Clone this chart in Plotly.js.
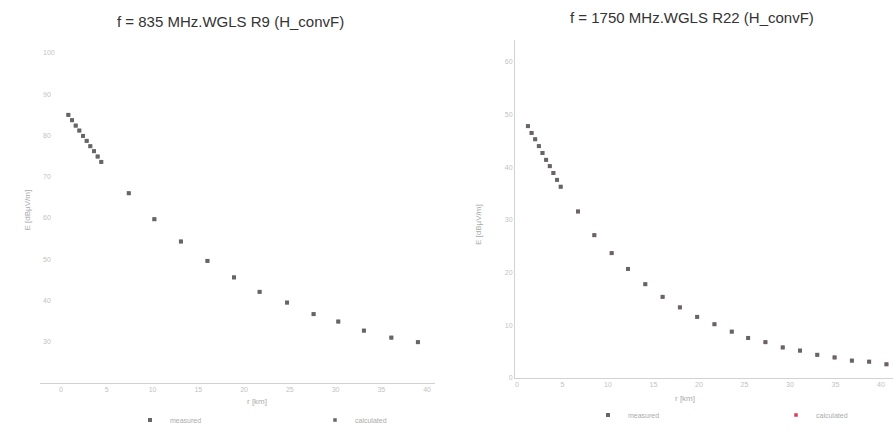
<!DOCTYPE html>
<html>
<head>
<meta charset="utf-8">
<script src="https://cdn.plot.ly/plotly-3.0.1.min.js"></script>
<style>html,body{margin:0;padding:0;background:#fff;}#chart{width:893px;height:441px;}</style>
</head>
<body>
<div id="chart"></div>
<script>
// ---- data ----
const leftTitle = "f = 835 MHz.WGLS R9 (H_convF)";
const rightTitle = "f = 1750 MHz.WGLS R22 (H_convF)";
const xTitle = "r [km]";
const yTitle = "E [dBµV/m]";

const leftR = [0.8, 1.2, 1.6, 2.0, 2.4, 2.8, 3.2, 3.6, 4.0, 4.4,
               7.4, 10.2, 13.1, 16.0, 18.9, 21.7, 24.7, 27.6, 30.3, 33.1, 36.1, 39.0];
const leftE = [85.0, 83.7, 82.4, 81.2, 79.9, 78.7, 77.4, 76.2, 74.9, 73.6,
               66.0, 59.7, 54.3, 49.6, 45.6, 42.1, 39.5, 36.7, 34.9, 32.7, 31.0, 29.9];

const rightR = [1.2, 1.6, 2.0, 2.4, 2.8, 3.2, 3.6, 4.0, 4.4, 4.8,
                6.7, 8.5, 10.4, 12.2, 14.1, 16.0, 17.9, 19.8, 21.7, 23.6,
                25.4, 27.3, 29.2, 31.1, 33.0, 34.9, 36.8, 38.7, 40.6];
const rightE = [47.8, 46.5, 45.3, 44.0, 42.7, 41.4, 40.2, 38.9, 37.6, 36.3,
                31.6, 27.1, 23.7, 20.7, 17.8, 15.4, 13.4, 11.6, 10.2, 8.8,
                7.6, 6.8, 5.8, 5.2, 4.4, 3.9, 3.3, 3.1, 2.6];

const leftTicks = [0, 5, 10, 15, 20, 25, 30, 35, 40];
const leftYTicks = [20, 30, 40, 50, 60, 70, 80, 90, 100];
const rightTicks = [0, 5, 10, 15, 20, 25, 30, 35, 40];
const rightYTicks = [0, 10, 20, 30, 40, 50, 60];

const legendNames = ["measured", "calculated", "measured", "calculated"];

// ---- layout helpers ----
const W = 893, H = 441;
const px = v => v / W;
const py = v => 1 - v / H;
const FONT = "Liberation Sans, Arial, sans-serif";
const tickFont = {family: FONT, size: 7, color: "#c2c2c2"};
const dotColor = "#666666";

const traces = [
  // calculated series lie under the measured dots
  {x: leftR, y: leftE, xaxis: "x", yaxis: "y", type: "scatter", mode: "markers",
   marker: {size: 3.5, color: dotColor, symbol: "square"}, name: legendNames[1], legend: "legend2", cliponaxis: false},
  {x: leftR, y: leftE, xaxis: "x", yaxis: "y", type: "scatter", mode: "markers",
   marker: {size: 4, color: dotColor, symbol: "square"}, name: legendNames[0], legend: "legend", cliponaxis: false},
  {x: rightR, y: rightE, xaxis: "x2", yaxis: "y2", type: "scatter", mode: "markers",
   marker: {size: 3.5, color: "#e03a55", symbol: "square"}, name: legendNames[3], legend: "legend4", cliponaxis: false},
  {x: rightR, y: rightE, xaxis: "x2", yaxis: "y2", type: "scatter", mode: "markers",
   marker: {size: 4, color: dotColor, symbol: "square"}, name: legendNames[2], legend: "legend3", cliponaxis: false}
];

const legBase = {bgcolor: "rgba(0,0,0,0)", font: {family: FONT, size: 7, color: "#ababab"},
                 xanchor: "left", yanchor: "middle", itemwidth: 30, itemsizing: "trace", tracegroupgap: 0};

const layout = {
  width: W, height: H,
  margin: {l: 0, r: 0, t: 0, b: 0},
  paper_bgcolor: "#fff", plot_bgcolor: "#fff",
  showlegend: true,
  xaxis: {domain: [px(40), px(435)], range: [-2.3, 40.87], tickvals: leftTicks, showgrid: false, zeroline: false,
          showline: true, linecolor: "#d2d2d2", linewidth: 1, ticks: "", tickfont: tickFont, anchor: "y"},
  yaxis: {domain: [py(383), py(40)], range: [20, 103.15], tickvals: leftYTicks, showgrid: false, zeroline: false,
          showline: false, ticks: "", tickfont: tickFont, ticklabelposition: "inside", anchor: "x"},
  xaxis2: {domain: [px(515), px(893)], range: [-0.22, 41.32], tickvals: rightTicks, showgrid: false, zeroline: false,
           showline: true, linecolor: "#d2d2d2", linewidth: 1, ticks: "", tickfont: tickFont, anchor: "y2"},
  yaxis2: {domain: [py(378), py(40)], range: [0, 64.14], tickvals: rightYTicks, showgrid: false, zeroline: false,
           showline: true, linecolor: "#d2d2d2", linewidth: 1, ticks: "", tickfont: tickFont, anchor: "x2"},
  legend: Object.assign({}, legBase, {x: px(130), y: py(420)}),
  legend2: Object.assign({}, legBase, {x: px(315), y: py(420)}),
  legend3: Object.assign({}, legBase, {x: px(588), y: py(415)}),
  legend4: Object.assign({}, legBase, {x: px(776), y: py(415)}),
  annotations: [
    {text: leftTitle, xref: "paper", yref: "paper", x: px(230), y: py(22), showarrow: false,
     font: {family: FONT, size: 15, color: "#333"}, xanchor: "center", yanchor: "middle"},
    {text: rightTitle, xref: "paper", yref: "paper", x: px(692), y: py(17), showarrow: false,
     font: {family: FONT, size: 15, color: "#333"}, xanchor: "center", yanchor: "middle"},
    {text: xTitle, xref: "paper", yref: "paper", x: px(245), y: py(408), showarrow: false,
     font: {family: FONT, size: 8, color: "#aaa"}},
    {text: xTitle, xref: "paper", yref: "paper", x: px(697), y: py(405), showarrow: false,
     font: {family: FONT, size: 8, color: "#aaa"}},
    {text: yTitle, xref: "paper", yref: "paper", x: px(20), y: py(210), showarrow: false, textangle: -90,
     font: {family: FONT, size: 8, color: "#aaa"}},
    {text: yTitle, xref: "paper", yref: "paper", x: px(478), y: py(225), showarrow: false, textangle: -90,
     font: {family: FONT, size: 8, color: "#aaa"}}
  ]
};

Plotly.newPlot("chart", traces, layout, {displayModeBar: false, staticPlot: true});
</script>
</body>
</html>
